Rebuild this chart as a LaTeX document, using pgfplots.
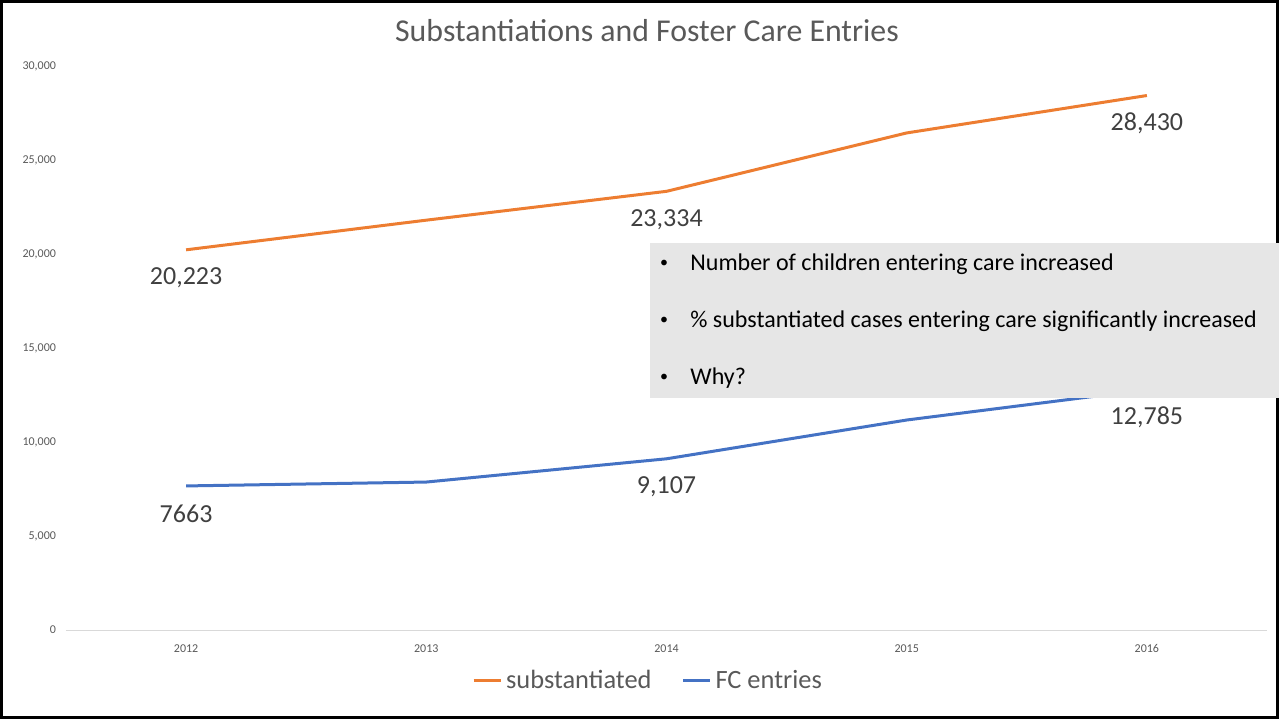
\documentclass[border=0pt]{standalone}
\usepackage{pgfplots}
\pgfplotsset{compat=1.18}
\usepackage{fontspec}
\setmainfont{Carlito}
\definecolor{orng}{HTML}{ED7D31}
\definecolor{blu}{HTML}{4472C4}
\definecolor{txtgray}{HTML}{595959}
\definecolor{lblgray}{HTML}{404040}
\definecolor{boxgray}{HTML}{E6E6E6}
\definecolor{gridgray}{HTML}{D9D9D9}
\begin{document}
\begin{tikzpicture}
\useasboundingbox (0,0) rectangle (639.5pt,359.5pt);
\draw[line width=1.5pt] (0.75pt,0.75pt) rectangle (638.6pt,358.75pt);
\node[text=txtgray, font=\fontsize{15.9}{18}\selectfont] at (323.5pt,344pt) {Substantiations and Foster Care Entries};
\begin{axis}[
  at={(33pt,44.5pt)}, anchor=south west,
  scale only axis, width=600.5pt, height=282pt,
  xmin=-0.5, xmax=4.5, ymin=0, ymax=30000,
  xtick={0,1,2,3,4}, xticklabels={2012,2013,2014,2015,2016},
  ytick={0,5000,10000,15000,20000,25000,30000},
  scaled y ticks=false,
  /pgf/number format/.cd, 1000 sep={,}, assume math mode=true, /pgfplots/.cd,
  axis line style={draw=none},
  major tick length=0pt,
  yticklabel style={font=\fontsize{6}{7}\selectfont, text=txtgray, xshift=-1.5pt},
  xticklabel style={font=\fontsize{6}{7}\selectfont, text=txtgray, yshift=-3pt, text height=4.5pt, text depth=0pt},
  legend style={at={(0.4854,-0.0904)}, anchor=center, draw=none, fill=none,
    legend columns=2, font=\fontsize{13.2}{15}\selectfont, text=txtgray,
    /tikz/every even column/.append style={column sep=13pt},
    /tikz/every odd column/.append style={column sep=0pt}},
  legend image code/.code={\draw[#1, line width=1.5pt] (0pt,0pt) -- (13.5pt,0pt);},
]
\draw[gridgray, line width=0.5pt] (axis cs:-0.5,0) -- (axis cs:4.5,0);
\addplot[orng, line width=1.5pt, line join=round, mark=none] coordinates {
  (0,20223) (1,21800) (2,23334) (3,26440) (4,28430)};
\addlegendentry{substantiated}
\addplot[blu, line width=1.5pt, line join=round, mark=none] coordinates {
  (0,7663) (1,7870) (2,9107) (3,11170) (4,12785)};
\addlegendentry{FC entries}
\node[font=\fontsize{13}{15}\selectfont, text=lblgray, yshift=-14pt] at (axis cs:0,20223) {20,223};
\node[font=\fontsize{13}{15}\selectfont, text=lblgray, yshift=-14pt] at (axis cs:2,23334) {23,334};
\node[font=\fontsize{13}{15}\selectfont, text=lblgray, yshift=-14pt] at (axis cs:4,28430) {28,430};
\node[font=\fontsize{13}{15}\selectfont, text=lblgray, yshift=-14pt] at (axis cs:0,7663) {7663};
\node[font=\fontsize{13}{15}\selectfont, text=lblgray, yshift=-14pt] at (axis cs:2,9107) {9,107};
\node[font=\fontsize{13}{15}\selectfont, text=lblgray, yshift=-14pt] at (axis cs:4,12785) {12,785};
\end{axis}
\fill[boxgray] (325pt,160.5pt) rectangle (639.5pt,238pt);
\begin{scope}[every node/.style={font=\fontsize{12}{14}\selectfont, text=black}]
\node[font=\fontsize{8}{9}\selectfont] at (332pt,227.5pt) {\textbullet};
\node[anchor=west, inner sep=0pt] at (345pt,227.5pt) {Number of children entering care increased};
\node[font=\fontsize{8}{9}\selectfont] at (332pt,199pt) {\textbullet};
\node[anchor=west, inner sep=0pt] at (345pt,199pt) {\% substantiated cases entering care significantly increased};
\node[font=\fontsize{8}{9}\selectfont] at (332pt,170.5pt) {\textbullet};
\node[anchor=west, inner sep=0pt] at (345pt,170.5pt) {Why?};
\end{scope}
\end{tikzpicture}
\end{document}
